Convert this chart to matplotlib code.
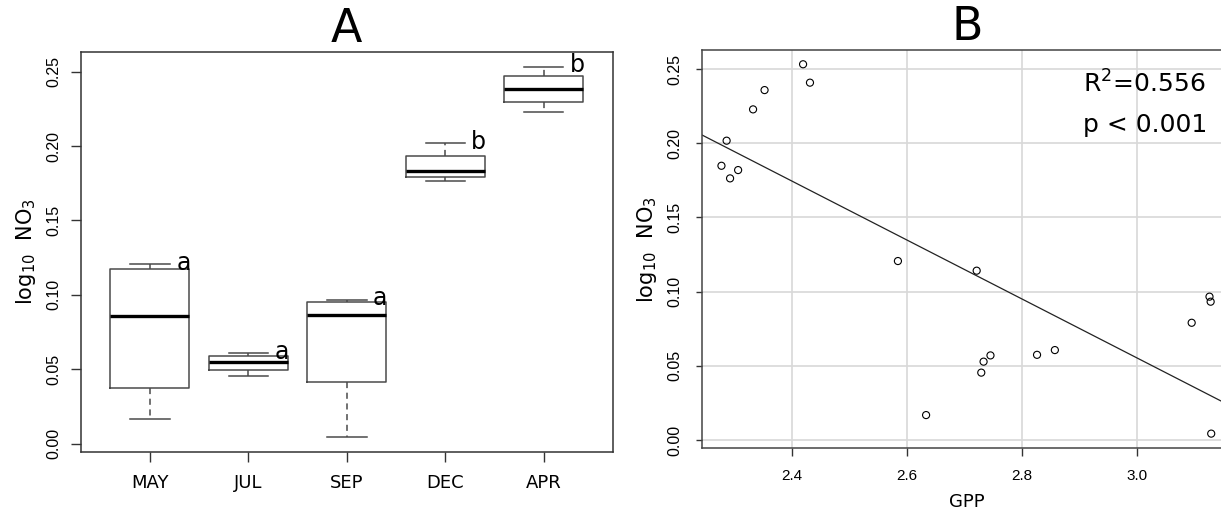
import numpy as np
import matplotlib
matplotlib.use("Agg")
import matplotlib.pyplot as plt
from matplotlib.ticker import FormatStrFormatter

# log10 NO3 per sampling month, with the matching GPP for each sample
months = ["MAY", "JUL", "SEP", "DEC", "APR"]
no3_may = [0.1206, 0.1141, 0.0574, 0.0168]
no3_jul = [0.0454, 0.0528, 0.0570, 0.0606]
no3_sep = [0.0966, 0.0932, 0.0790, 0.0043]
no3_dec = [0.2017, 0.1848, 0.1819, 0.1763]
no3_apr = [0.2532, 0.2408, 0.2358, 0.2228]

gpp_may = [2.584, 2.721, 2.826, 2.633]
gpp_jul = [2.729, 2.733, 2.745, 2.857]
gpp_sep = [3.126, 3.128, 3.095, 3.129]
gpp_dec = [2.286, 2.277, 2.306, 2.292]
gpp_apr = [2.419, 2.431, 2.352, 2.332]

groups = ["a", "a", "a", "b", "b"]
r2_text = r"R$^2$=0.556"
p_text = "p < 0.001"

no3_all = [no3_may, no3_jul, no3_sep, no3_dec, no3_apr]
gpp_all = [gpp_may, gpp_jul, gpp_sep, gpp_dec, gpp_apr]


def fivenum_stats(values):
    """Tukey hinges and whiskers, the way R's boxplot computes them."""
    x = np.sort(np.asarray(values, dtype=float))
    n = len(x)
    n4 = np.floor((n + 3) / 2) / 2
    d = np.array([1, n4, (n + 1) / 2, n + 1 - n4, n]) - 1
    lo = x[np.floor(d).astype(int)]
    hi = x[np.ceil(d).astype(int)]
    q = 0.5 * (lo + hi)
    iqr = q[3] - q[1]
    inside = x[(x >= q[1] - 1.5 * iqr) & (x <= q[3] + 1.5 * iqr)]
    return dict(med=q[2], q1=q[1], q3=q[3], whislo=inside.min(),
                whishi=inside.max(), fliers=[])


fig = plt.figure(figsize=(12.21, 5.14), dpi=100)
tick_font = "Liberation Sans"

# ---------- A: boxplots by month ----------
ax1 = fig.add_axes([0.0663, 0.1206, 0.4355, 0.7788])
stats = [fivenum_stats(v) for v in no3_all]
pos = np.arange(1, len(months) + 1)
edge = "#4a4a4a"
ax1.bxp(stats, positions=pos, widths=0.8, capwidths=0.4, showfliers=False,
        patch_artist=False,
        boxprops=dict(color=edge, linewidth=1.1),
        whiskerprops=dict(color=edge, linewidth=1.1, linestyle=(0, (4, 3))),
        capprops=dict(color=edge, linewidth=1.1),
        medianprops=dict(color="black", linewidth=2.4, solid_capstyle="butt"))

for p, s, g in zip(pos, stats, groups):
    ax1.text(p + 0.34, s["whishi"] + 0.001, g, fontsize=17, ha="center",
             va="center")

ax1.set_xlim(0.3, 5.7)
ax1.set_ylim(-0.0057, 0.2634)
ax1.set_xticks(pos)
ax1.set_xticklabels(months, fontsize=13)
ax1.set_yticks(np.arange(0, 0.26, 0.05))
ax1.yaxis.set_major_formatter(FormatStrFormatter("%.2f"))
ax1.tick_params(axis="x", length=7, width=1, color="#333333", pad=9)
ax1.tick_params(axis="y", length=7, width=1, color="#333333", pad=7,
                labelrotation=90, labelsize=11.5)
for lab in ax1.get_yticklabels():
    lab.set_va("center")
    lab.set_family(tick_font)
for sp in ax1.spines.values():
    sp.set_color("#333333")
    sp.set_linewidth(1.1)
ax1.set_ylabel(r"log$_{10}$  NO$_3$", fontsize=15, labelpad=6)
ax1.set_title("A", fontsize=33, pad=4)

# ---------- B: NO3 against GPP with least-squares line ----------
ax2 = fig.add_axes([0.575, 0.1278, 0.4337, 0.7749])
gpp = np.concatenate(gpp_all)
no3 = np.concatenate(no3_all)
slope, intercept = np.polyfit(gpp, no3, 1)

ax2.grid(True, color="#d8d8d8", linewidth=1.2, zorder=0)
ax2.scatter(gpp, no3, s=26, facecolors="none", edgecolors="black",
            linewidths=0.8, zorder=3)
ax2.axline((gpp.mean(), intercept + slope * gpp.mean()), slope=slope,
           color="#222222", linewidth=0.9, zorder=2)

ax2.text(2.906, 0.2338, r2_text, fontsize=18, ha="left", va="baseline")
ax2.text(2.906, 0.2075, p_text, fontsize=18, ha="left", va="baseline")

ax2.set_xlim(2.2433, 3.1645)
ax2.set_ylim(-0.0056, 0.2628)
ax2.set_xticks([2.4, 2.6, 2.8, 3.0])
ax2.set_yticks(np.arange(0, 0.26, 0.05))
ax2.xaxis.set_major_formatter(FormatStrFormatter("%.1f"))
ax2.yaxis.set_major_formatter(FormatStrFormatter("%.2f"))
ax2.tick_params(axis="x", length=6, width=1, color="#333333", pad=9,
                labelsize=11)
ax2.tick_params(axis="y", length=4, width=1, color="#333333", pad=10,
                labelrotation=90, labelsize=11.5)
for lab in ax2.get_yticklabels() + ax2.get_xticklabels():
    lab.set_family(tick_font)
for lab in ax2.get_yticklabels():
    lab.set_va("center")
for sp in ax2.spines.values():
    sp.set_color("#444444")
    sp.set_linewidth(1.1)
ax2.set_xlabel("GPP", fontsize=13, labelpad=7)
ax2.set_ylabel(r"log$_{10}$  NO$_3$", fontsize=15, labelpad=6)
ax2.set_title("B", fontsize=33, pad=4)

fig.savefig("out.png", dpi=100, facecolor="white")
